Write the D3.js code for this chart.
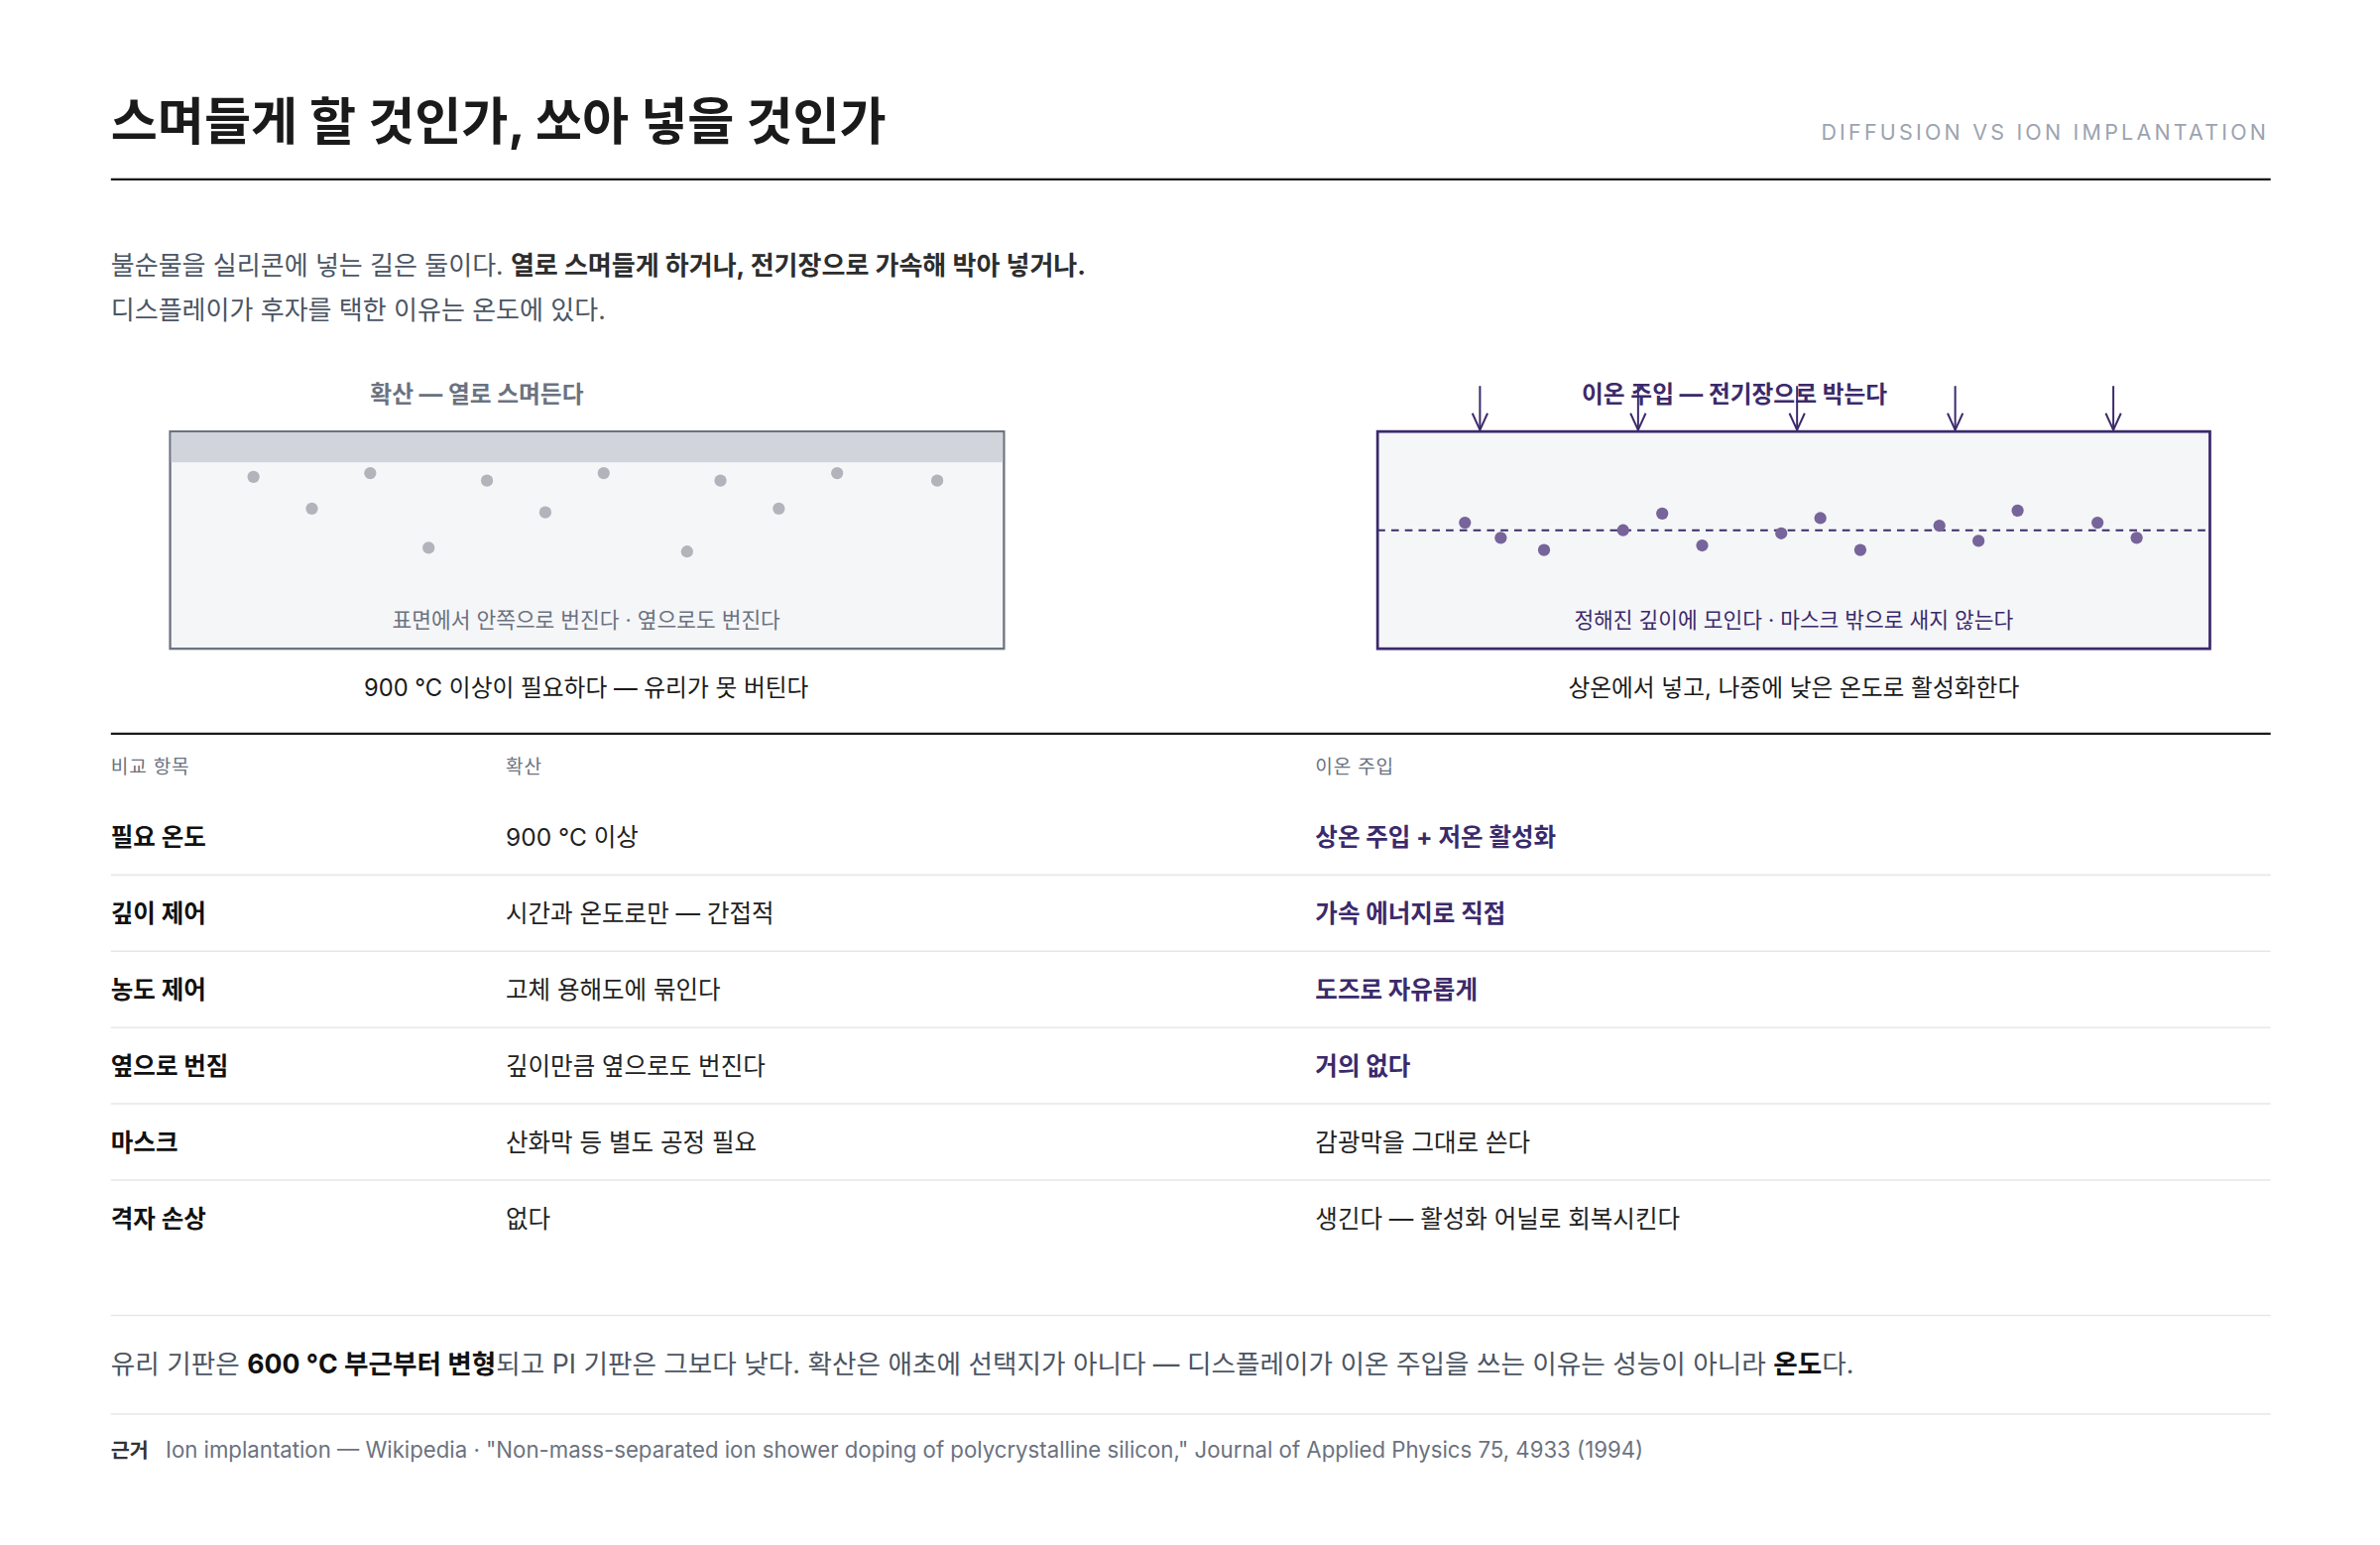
<!DOCTYPE html>
<html><head><meta charset="utf-8">
<script src="https://cdn.jsdelivr.net/npm/d3@7"></script>
<style>html,body{margin:0;padding:0;background:#fff}svg{display:block}text{font-family:"Inter","Noto Sans CJK KR",sans-serif}</style>
</head><body><svg id="c"></svg>
<script>
const title = "스며들게 할 것인가, 쏘아 넣을 것인가";
const subtitle = "DIFFUSION VS ION IMPLANTATION";
// diffusion dots: [x position 0-100, depth 0-100]
const diffX = [10,24,38,52,66,80,92,17,45,73,31,62];
const diffDepth = [8,6,10,6,10,6,10,25,27,25,46,48];
// implant dots: [x position, offset from projected range]
const impX = [10.5,14.8,20,29.5,34.2,39,48.5,53.2,58,67.5,72.2,76.9,86.5,91.2];
const impOff = [-5,5,13,0,-11,10,2,-8,13,-3,7,-13,-5,5];
const arrowsX = [12.3,31.3,50.4,69.4,88.4];
const headers = ["비교 항목","확산","이온 주입"];
const rowLabels = ["필요 온도","깊이 제어","농도 제어","옆으로 번짐","마스크","격자 손상"];
const diffCol = ["900 °C 이상","시간과 온도로만 — 간접적","고체 용해도에 묶인다","깊이만큼 옆으로도 번진다","산화막 등 별도 공정 필요","없다"];
const ionCol = ["상온 주입 + 저온 활성화","가속 에너지로 직접","도즈로 자유롭게","거의 없다","감광막을 그대로 쓴다","생긴다 — 활성화 어닐로 회복시킨다"];
const ionHighlight = [true,true,true,true,false,false];

const W=1567,H=1017;
const svg=d3.select("#c").attr("width",2400).attr("height",1558).attr("viewBox",`0 0 ${W} ${H}`);
const dark="#1a1a1a", purple="#3b2a6b", gray="#6b7280";

svg.append("text").attr("x",73).attr("y",92).attr("font-size",33.4).attr("font-weight",700).attr("fill",dark).attr("font-family","Noto Sans CJK KR").text(title);
svg.append("text").attr("x",1494).attr("y",92).attr("text-anchor","end").attr("font-size",14).attr("letter-spacing",2.1).attr("fill","#9ca3af").text(subtitle);
svg.append("line").attr("x1",73).attr("x2",1495).attr("y1",118).attr("y2",118).attr("stroke",dark).attr("stroke-width",1.5);

const t1=svg.append("text").attr("x",73).attr("y",181).attr("font-size",17).attr("fill","#4b5563");
t1.append("tspan").text("불순물을 실리콘에 넣는 길은 둘이다. ");
t1.append("tspan").attr("font-weight",700).attr("fill","#2d2d2d").text("열로 스며들게 하거나, 전기장으로 가속해 박아 넣거나.");
svg.append("text").attr("x",73).attr("y",210).attr("font-size",17).attr("fill","#4b5563").text("디스플레이가 후자를 택한 이유는 온도에 있다.");

// left panel
const L={x0:112,x1:661,y0:284,y1:427};
const lx=d3.scaleLinear().domain([0,100]).range([L.x0,L.x1]);
const ly=d3.scaleLinear().domain([0,100]).range([L.y0+20,L.y1]);
svg.append("text").attr("x",314).attr("y",265).attr("text-anchor","middle").attr("font-size",15.5).attr("font-weight",700).attr("fill",gray).text("확산 — 열로 스며든다");
svg.append("rect").attr("x",L.x0).attr("y",L.y0).attr("width",L.x1-L.x0).attr("height",L.y1-L.y0).attr("fill","#f5f6f8").attr("stroke",gray).attr("stroke-width",1.5);
svg.append("rect").attr("x",L.x0+0.75).attr("y",L.y0+0.75).attr("width",L.x1-L.x0-1.5).attr("height",19.5).attr("fill","#d1d5db");
svg.selectAll(".dd").data(diffX).join("circle").attr("cx",d=>lx(d)).attr("cy",(d,i)=>ly(diffDepth[i])).attr("r",4).attr("fill","#b1b4ba");
svg.append("text").attr("x",386).attr("y",413).attr("text-anchor","middle").attr("font-size",14).attr("fill",gray).text("표면에서 안쪽으로 번진다 · 옆으로도 번진다");
svg.append("text").attr("x",386).attr("y",458).attr("text-anchor","middle").attr("font-size",15.5).attr("fill",dark).text("900 °C 이상이 필요하다 — 유리가 못 버틴다");

// right panel
const R={x0:907,x1:1455,y0:284,y1:427};
const rx=d3.scaleLinear().domain([0,100]).range([R.x0,R.x1]);
const rp=349;
svg.append("rect").attr("x",R.x0).attr("y",R.y0).attr("width",R.x1-R.x0).attr("height",R.y1-R.y0).attr("fill","#f5f6f8").attr("stroke",purple).attr("stroke-width",1.8);
svg.append("line").attr("x1",R.x0).attr("x2",R.x1).attr("y1",rp).attr("y2",rp).attr("stroke",purple).attr("stroke-width",1.3).attr("stroke-dasharray","5,4");
svg.selectAll(".id").data(impX).join("circle").attr("cx",d=>rx(d)).attr("cy",(d,i)=>rp+impOff[i]).attr("r",4).attr("fill","#76649a");
svg.append("text").attr("x",1142).attr("y",265).attr("text-anchor","middle").attr("font-size",15.5).attr("font-weight",700).attr("fill",purple).text("이온 주입 — 전기장으로 박는다");
arrowsX.forEach(a=>{
  const x=rx(a);
  svg.append("line").attr("x1",x).attr("x2",x).attr("y1",254).attr("y2",283).attr("stroke",purple).attr("stroke-width",1.3);
  svg.append("path").attr("d",`M${x-5},${272} L${x},${283} L${x+5},${272}`).attr("fill","none").attr("stroke",purple).attr("stroke-width",1.3);
});
svg.append("text").attr("x",1181).attr("y",413).attr("text-anchor","middle").attr("font-size",14).attr("fill",purple).text("정해진 깊이에 모인다 · 마스크 밖으로 새지 않는다");
svg.append("text").attr("x",1181).attr("y",458).attr("text-anchor","middle").attr("font-size",15.5).attr("fill",dark).text("상온에서 넣고, 나중에 낮은 온도로 활성화한다");

svg.append("line").attr("x1",73).attr("x2",1495).attr("y1",483).attr("y2",483).attr("stroke",dark).attr("stroke-width",1.5);

// table
const colX=[73,333,866];
headers.forEach((h,i)=>svg.append("text").attr("x",colX[i]).attr("y",509).attr("font-size",12.5).attr("fill",gray).attr("letter-spacing",0.5).text(h));
const ry=d3.scalePoint().domain(rowLabels).range([557,808]);
rowLabels.forEach((r,i)=>{
  const y=ry(r);
  svg.append("text").attr("x",colX[0]).attr("y",y).attr("font-size",16).attr("font-weight",700).attr("fill","#111").text(r);
  svg.append("text").attr("x",colX[1]).attr("y",y).attr("font-size",16).attr("fill","#222").text(diffCol[i]);
  svg.append("text").attr("x",colX[2]).attr("y",y).attr("font-size",16).attr("font-weight",ionHighlight[i]?700:400).attr("fill",ionHighlight[i]?purple:"#222").text(ionCol[i]);
  if(i<rowLabels.length-1) svg.append("line").attr("x1",73).attr("x2",1495).attr("y1",y+19).attr("y2",y+19).attr("stroke","#e5e7eb");
});

svg.append("line").attr("x1",73).attr("x2",1495).attr("y1",866).attr("y2",866).attr("stroke","#e5e7eb");
const t2=svg.append("text").attr("x",73).attr("y",904).attr("font-size",17.4).attr("fill","#4b5563");
t2.append("tspan").text("유리 기판은 ");
t2.append("tspan").attr("font-weight",700).attr("fill","#111").text("600 °C 부근부터 변형");
t2.append("tspan").text("되고 PI 기판은 그보다 낮다. 확산은 애초에 선택지가 아니다 — 디스플레이가 이온 주입을 쓰는 이유는 성능이 아니라 ");
t2.append("tspan").attr("font-weight",700).attr("fill","#111").text("온도");
t2.append("tspan").text("다.");
svg.append("line").attr("x1",73).attr("x2",1495).attr("y1",931).attr("y2",931).attr("stroke","#e5e7eb");
svg.append("text").attr("x",73).attr("y",960).attr("font-size",13.5).attr("font-weight",700).attr("fill","#333").text("근거");
svg.append("text").attr("x",109).attr("y",960).attr("font-size",14.5).attr("fill",gray).text("Ion implantation — Wikipedia · \"Non-mass-separated ion shower doping of polycrystalline silicon,\" Journal of Applied Physics 75, 4933 (1994)");
</script></body></html>
